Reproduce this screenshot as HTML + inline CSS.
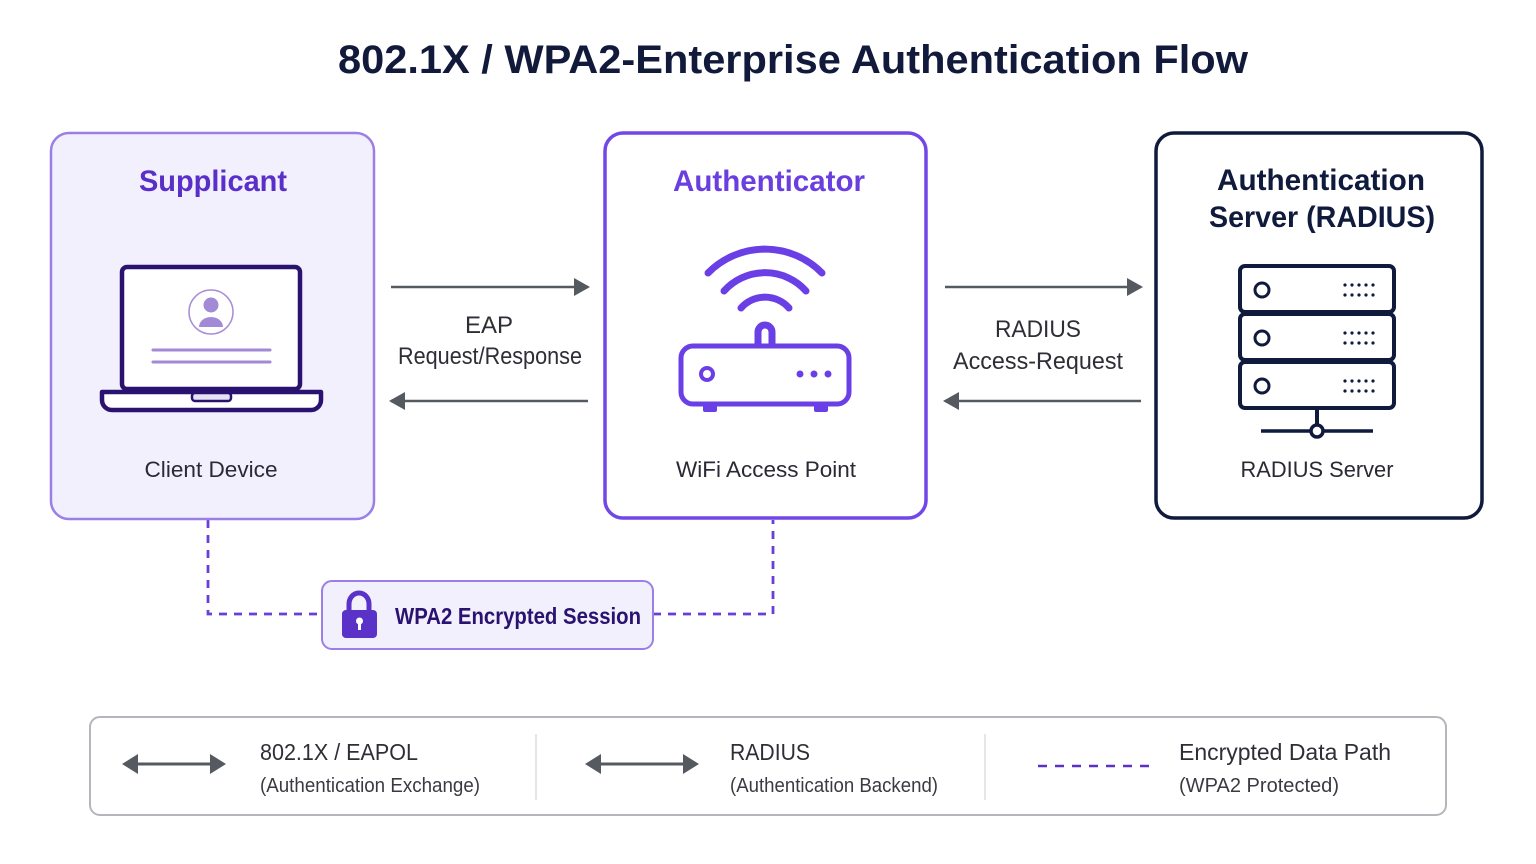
<!DOCTYPE html>
<html><head><meta charset="utf-8"><style>
html,body{margin:0;padding:0;background:#fff;}
svg{display:block;font-family:"Liberation Sans",sans-serif;}
</style></head><body>
<svg width="1536" height="864" viewBox="0 0 1536 864" xmlns="http://www.w3.org/2000/svg">
<defs>
<marker id="ah" markerWidth="16" markerHeight="18" refX="14" refY="9" orient="auto" markerUnits="userSpaceOnUse" viewBox="0 0 16 18"><path d="M0,0 L16,9 L0,18 z" fill="#555a60"/></marker>
</defs>
<rect width="1536" height="864" fill="#fff"/>
<text x="793" y="73" text-anchor="middle" font-size="40" font-weight="bold" fill="#111a3a" textLength="910" lengthAdjust="spacingAndGlyphs">802.1X / WPA2-Enterprise Authentication Flow</text>

<path d="M208,520 V614 H322" fill="none" stroke="#6a3fd8" stroke-width="2.8" stroke-dasharray="8,7"/>
<path d="M653,614 H773 V520" fill="none" stroke="#6a3fd8" stroke-width="2.8" stroke-dasharray="8,7"/>

<rect x="51" y="133" width="323" height="386" rx="18" fill="#f3f0fd" stroke="#9c7fe6" stroke-width="2.5"/>
<text x="213" y="191" text-anchor="middle" font-size="30" font-weight="bold" fill="#5a2fc9" textLength="148" lengthAdjust="spacingAndGlyphs">Supplicant</text>
<rect x="122" y="267" width="178" height="122" rx="5" fill="#fff" stroke="#2a1370" stroke-width="4.5"/>
<circle cx="211" cy="312" r="22" fill="none" stroke="#a88ed8" stroke-width="1.5"/>
<circle cx="211" cy="305" r="7.5" fill="#a28ad6"/>
<path d="M199,327 a12,10 0 0 1 24,0 z" fill="#a28ad6"/>
<line x1="153" y1="350" x2="270" y2="350" stroke="#a28ad6" stroke-width="3" stroke-linecap="round"/>
<line x1="153" y1="362" x2="270" y2="362" stroke="#a28ad6" stroke-width="3" stroke-linecap="round"/>
<path d="M102,392 H321 V400 a10,10 0 0 1 -10,10 H112 a10,10 0 0 1 -10,-10 z" fill="#fff" stroke="#2a1370" stroke-width="4.5" stroke-linejoin="round"/>
<rect x="192" y="393" width="39" height="8" rx="3" fill="#e6e2f6" stroke="#2a1370" stroke-width="2.5"/>
<text x="211" y="477" text-anchor="middle" font-size="22" fill="#2a2a35" textLength="133" lengthAdjust="spacingAndGlyphs">Client Device</text>

<rect x="605" y="133" width="321" height="385" rx="18" fill="#fff" stroke="#7247e8" stroke-width="3.5"/>
<text x="769" y="191" text-anchor="middle" font-size="30" font-weight="bold" fill="#6a3fe0" textLength="192" lengthAdjust="spacingAndGlyphs">Authenticator</text>
<g fill="none" stroke="#6a40e6" stroke-width="7" stroke-linecap="round">
<path d="M708,273 A80,80 0 0 1 822,273"/>
<path d="M724,291 A55,55 0 0 1 806,291"/>
<path d="M741,308 A32,32 0 0 1 789,308"/>
<path d="M758,345 V332 a7,7 0 0 1 14,0 V345"/>
</g>
<rect x="681" y="346" width="168" height="58" rx="12" fill="#fff" stroke="#6a40e6" stroke-width="5"/>
<rect x="703" y="403" width="14" height="9" rx="2" fill="#6a40e6"/>
<rect x="814" y="403" width="14" height="9" rx="2" fill="#6a40e6"/>
<circle cx="707" cy="374" r="6" fill="none" stroke="#6a40e6" stroke-width="4"/>
<circle cx="800" cy="374" r="3.5" fill="#6a40e6"/><circle cx="814" cy="374" r="3.5" fill="#6a40e6"/><circle cx="828" cy="374" r="3.5" fill="#6a40e6"/>
<text x="766" y="477" text-anchor="middle" font-size="22" fill="#2a2a35" textLength="180" lengthAdjust="spacingAndGlyphs">WiFi Access Point</text>

<rect x="1156" y="133" width="326" height="385" rx="18" fill="#fff" stroke="#0f1a3d" stroke-width="3.5"/>
<text x="1321" y="190" text-anchor="middle" font-size="30" font-weight="bold" fill="#0f1a3d" textLength="208" lengthAdjust="spacingAndGlyphs">Authentication</text>
<text x="1322" y="227" text-anchor="middle" font-size="30" font-weight="bold" fill="#0f1a3d" textLength="226" lengthAdjust="spacingAndGlyphs">Server (RADIUS)</text>
<g fill="#fff" stroke="#0f1a3d" stroke-width="4">
<rect x="1240" y="266" width="154" height="46" rx="5"/>
<rect x="1240" y="314" width="154" height="46" rx="5"/>
<rect x="1240" y="362" width="154" height="46" rx="5"/>
<circle cx="1262" cy="290" r="7" stroke-width="3"/>
<circle cx="1262" cy="338" r="7" stroke-width="3"/>
<circle cx="1262" cy="386" r="7" stroke-width="3"/>
<line x1="1317" y1="408" x2="1317" y2="425"/>
<line x1="1261" y1="431" x2="1373" y2="431" stroke-width="3.5"/>
<circle cx="1317" cy="431" r="6" stroke-width="3.5"/>
</g>
<g fill="#0f1a3d">
<g id="dots"><circle cx="1345" cy="285" r="1.6"/><circle cx="1352" cy="285" r="1.6"/><circle cx="1359" cy="285" r="1.6"/><circle cx="1366" cy="285" r="1.6"/><circle cx="1373" cy="285" r="1.6"/><circle cx="1345" cy="295" r="1.6"/><circle cx="1352" cy="295" r="1.6"/><circle cx="1359" cy="295" r="1.6"/><circle cx="1366" cy="295" r="1.6"/><circle cx="1373" cy="295" r="1.6"/></g>
<use href="#dots" y="48"/><use href="#dots" y="96"/>
</g>
<text x="1317" y="477" text-anchor="middle" font-size="22" fill="#2a2a35" textLength="153" lengthAdjust="spacingAndGlyphs">RADIUS Server</text>

<g stroke="#555a60" stroke-width="2.5">
<line x1="391" y1="287" x2="588" y2="287" marker-end="url(#ah)"/>
<line x1="588" y1="401" x2="391" y2="401" marker-end="url(#ah)"/>
<line x1="945" y1="287" x2="1141" y2="287" marker-end="url(#ah)"/>
<line x1="1141" y1="401" x2="945" y2="401" marker-end="url(#ah)"/>
</g>
<text x="489" y="333" text-anchor="middle" font-size="24" fill="#2e2e36">EAP</text>
<text x="490" y="364" text-anchor="middle" font-size="24" fill="#2e2e36" textLength="184" lengthAdjust="spacingAndGlyphs">Request/Response</text>
<text x="1038" y="337" text-anchor="middle" font-size="24" fill="#2e2e36" textLength="86" lengthAdjust="spacingAndGlyphs">RADIUS</text>
<text x="1038" y="369" text-anchor="middle" font-size="24" fill="#2e2e36" textLength="170" lengthAdjust="spacingAndGlyphs">Access-Request</text>

<rect x="322" y="581" width="331" height="68" rx="10" fill="#f3f0fd" stroke="#9c7fe6" stroke-width="2"/>
<path d="M349,612 V604 a10,11 0 0 1 20,0 V612" fill="none" stroke="#5a32c8" stroke-width="5"/>
<rect x="342" y="610" width="35" height="28" rx="4" fill="#5a32c8"/>
<circle cx="359.5" cy="621" r="3.5" fill="#fff"/><rect x="358" y="621" width="3" height="9" fill="#fff"/>
<text x="518" y="624" text-anchor="middle" font-size="23" font-weight="bold" fill="#2a1370" textLength="246" lengthAdjust="spacingAndGlyphs">WPA2 Encrypted Session</text>

<rect x="90" y="717" width="1356" height="98" rx="10" fill="#fff" stroke="#b4b6bb" stroke-width="2"/>
<line x1="536" y1="734" x2="536" y2="800" stroke="#dcdde0" stroke-width="1.5"/>
<line x1="985" y1="734" x2="985" y2="800" stroke="#dcdde0" stroke-width="1.5"/>
<g stroke="#555a60" stroke-width="3">
<line x1="132" y1="764" x2="216" y2="764"/>
<line x1="595" y1="764" x2="689" y2="764"/>
</g>
<g fill="#555a60">
<path d="M122,764 L138,754 L138,774 z"/><path d="M226,764 L210,754 L210,774 z"/>
<path d="M585,764 L601,754 L601,774 z"/><path d="M699,764 L683,754 L683,774 z"/>
</g>
<line x1="1038" y1="766" x2="1152" y2="766" stroke="#5a32c8" stroke-width="2.5" stroke-dasharray="9,8"/>
<g font-size="23" fill="#2e2e36">
<text x="260" y="760" textLength="158" lengthAdjust="spacingAndGlyphs">802.1X / EAPOL</text>
<text x="730" y="760" textLength="80" lengthAdjust="spacingAndGlyphs">RADIUS</text>
<text x="1179" y="760" textLength="212" lengthAdjust="spacingAndGlyphs">Encrypted Data Path</text>
</g>
<g font-size="20" fill="#3a3a42">
<text x="260" y="792" textLength="220" lengthAdjust="spacingAndGlyphs">(Authentication Exchange)</text>
<text x="730" y="792" textLength="208" lengthAdjust="spacingAndGlyphs">(Authentication Backend)</text>
<text x="1179" y="792" textLength="160" lengthAdjust="spacingAndGlyphs">(WPA2 Protected)</text>
</g>
</svg>
</body></html>
